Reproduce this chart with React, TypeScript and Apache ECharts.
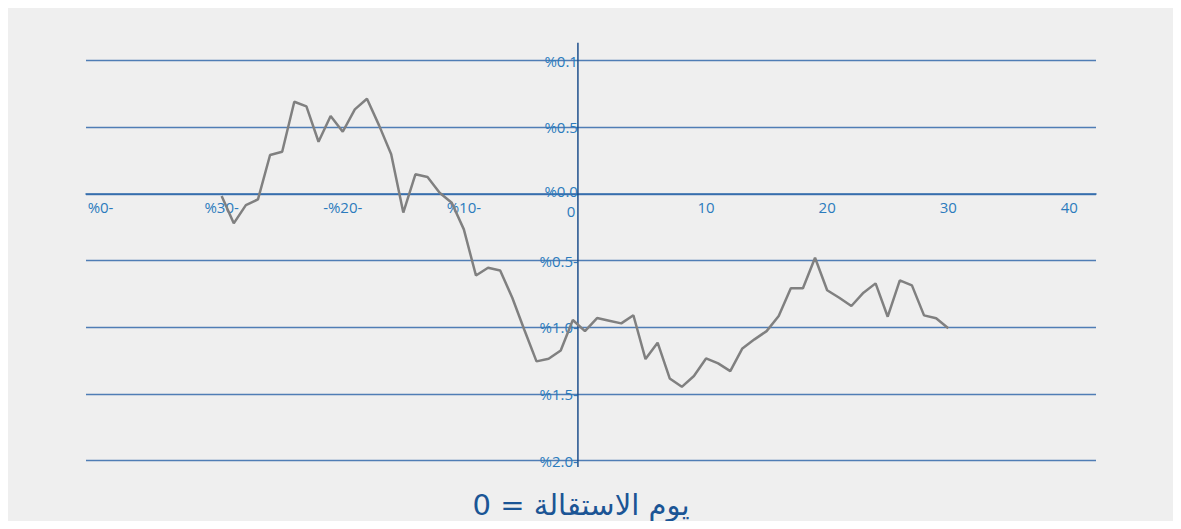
import React, { useEffect, useRef } from "react";
import * as echarts from "echarts";

// Event days relative to resignation day (day 0)
const days = [
  -30, -29, -28, -27, -26, -25, -24, -23, -22, -21, -20, -19, -18, -17, -16, -15,
  -14, -13, -12, -11, -10, -9, -8, -7, -6, -5, -4, -3, -2, -1, 0, 1, 2, 3, 4, 5,
  6, 7, 8, 9, 10, 11, 12, 13, 14, 15, 16, 17, 18, 19, 20, 21, 22, 23, 24, 25, 26,
  27, 28, 29, 30,
];

// Cumulative abnormal return (%)
const returns = [
  -0.015, -0.22, -0.083, -0.04, 0.293, 0.317, 0.692, 0.658, 0.392, 0.585, 0.467,
  0.635, 0.715, 0.515, 0.298, -0.139, 0.148, 0.128, 0.01, -0.065, -0.265, -0.611,
  -0.553, -0.573, -0.778, -1.02, -1.255, -1.236, -1.174, -0.945, -1.028, -0.93,
  -0.95, -0.97, -0.909, -1.238, -1.115, -1.383, -1.446, -1.365, -1.233, -1.27,
  -1.328, -1.158, -1.09, -1.028, -0.915, -0.707, -0.707, -0.478, -0.722, -0.778,
  -0.84, -0.74, -0.67, -0.92, -0.647, -0.685, -0.91, -0.932, -1.007,
];

const xTickValues = [-40, -30, -20, -10, 0, 10, 20, 30, 40];
const xTickLabels = ["%0-", "%30-", "-%20-", "%10-", "0", "10", "20", "30", "40"];
const yTickValues = [1, 0.5, 0, -0.5, -1, -1.5, -2];
const yTickLabels = ["%0.1", "%0.5", "%0.0", "%0.5-", "%1.0-", "%1.5-", "%2.0-"];
const titleText = "يوم الاستقالة = 0";

const xMin = -41.2;
const xMax = 42.2;
const yMin = -2;
const yMax = 1;
const yAxisCrossX = -0.58;
const verticalAxisSpan = [0, 1];

const FONT = "'Open Sans', 'Noto Sans', 'DejaVu Sans', sans-serif";
const LABEL_COLOR = "#2b7bbd";

const CHART_W = 1165;
const CHART_H = 513;
const GRID = { left: 78, right: 77, top: 52.7, bottom: 60.3 };

export default function App() {
  const ref = useRef<HTMLDivElement>(null);

  useEffect(() => {
    if (!ref.current) return;
    const chart = echarts.init(ref.current, undefined, { renderer: "svg" });

    const findLabel = (vals: number[], labels: string[], v: number) => {
      const i = vals.findIndex((t) => Math.abs(t - v) < 1e-6);
      return i >= 0 ? labels[i] : "";
    };

    const plotW = CHART_W - GRID.left - GRID.right;
    const plotH = CHART_H - GRID.top - GRID.bottom;
    // axes cross at value 0 of the other axis
    const xAxisOffset = -((0 - yMin) / (yMax - yMin)) * plotH;
    const yAxisOffset = -((0 - xMin) / (xMax - xMin)) * plotW;

    const labelStyle = { color: LABEL_COLOR, fontSize: 15, fontFamily: FONT, lineHeight: 14 };

    chart.setOption({
      animation: false,
      backgroundColor: "#efefef",
      grid: [
        { ...GRID },
        { left: GRID.left, right: GRID.right, top: 34.7, bottom: 54 },
      ],
      xAxis: [
        {
          type: "value",
          gridIndex: 0,
          min: xMin,
          max: xMax,
          position: "bottom",
          offset: xAxisOffset,
          splitLine: { show: false },
          axisTick: { show: false },
          axisLine: { show: true, onZero: false, lineStyle: { color: "#2f6aab", width: 1.5 } },
          axisLabel: {
            customValues: xTickValues,
            ...labelStyle,
            margin: 6,
            formatter: (v: number) => {
              const s = findLabel(xTickValues, xTickLabels, v);
              return v === 0 ? "{z|" + s + "}" : "{n|" + s + "}";
            },
            rich: {
              n: { ...labelStyle },
              z: { ...labelStyle, padding: [8, 28, 0, 0] },
            },
          },
        },
        {
          type: "value",
          gridIndex: 1,
          min: xMin,
          max: xMax,
          show: false,
        },
      ],
      yAxis: [
        {
          type: "value",
          gridIndex: 0,
          min: yMin,
          max: yMax,
          interval: 0.5,
          position: "left",
          offset: yAxisOffset,
          axisTick: { show: false },
          axisLine: { show: false, onZero: false },
          splitLine: { show: true, lineStyle: { color: "#4f7db5", width: 1.3 } },
          axisLabel: {
            ...labelStyle,
            margin: 7,
            formatter: (v: number) =>
              (v === 0 ? "{z|" : "{n|") + findLabel(yTickValues, yTickLabels, v) + "}",
            rich: { n: { ...labelStyle }, z: { ...labelStyle, padding: [0, 0, 6, 0] } },
          },
        },
        {
          type: "value",
          gridIndex: 1,
          min: verticalAxisSpan[0],
          max: verticalAxisSpan[1],
          show: false,
        },
      ],
      series: [
        {
          type: "line",
          xAxisIndex: 1,
          yAxisIndex: 1,
          data: verticalAxisSpan.map((v) => [yAxisCrossX, v]),
          symbol: "none",
          silent: true,
          z: 1,
          lineStyle: { color: "#1d4f8c", width: 1.5 },
        },
        {
          type: "line",
          xAxisIndex: 0,
          yAxisIndex: 0,
          data: days.map((d, i) => [d, returns[i]]),
          symbol: "none",
          z: 3,
          lineStyle: { color: "#808080", width: 2.5 },
        },
      ],
      graphic: [
        {
          type: "text",
          x: 573,
          y: 497,
          style: {
            text: titleText,
            fill: "#1b5595",
            font: "29px 'DejaVu Sans', sans-serif",
            textAlign: "center",
            textVerticalAlign: "middle",
          },
        },
      ],
    });

    return () => chart.dispose();
  }, []);

  return <div ref={ref} style={{ width: CHART_W, height: CHART_H, background: "#efefef" }} />;
}
